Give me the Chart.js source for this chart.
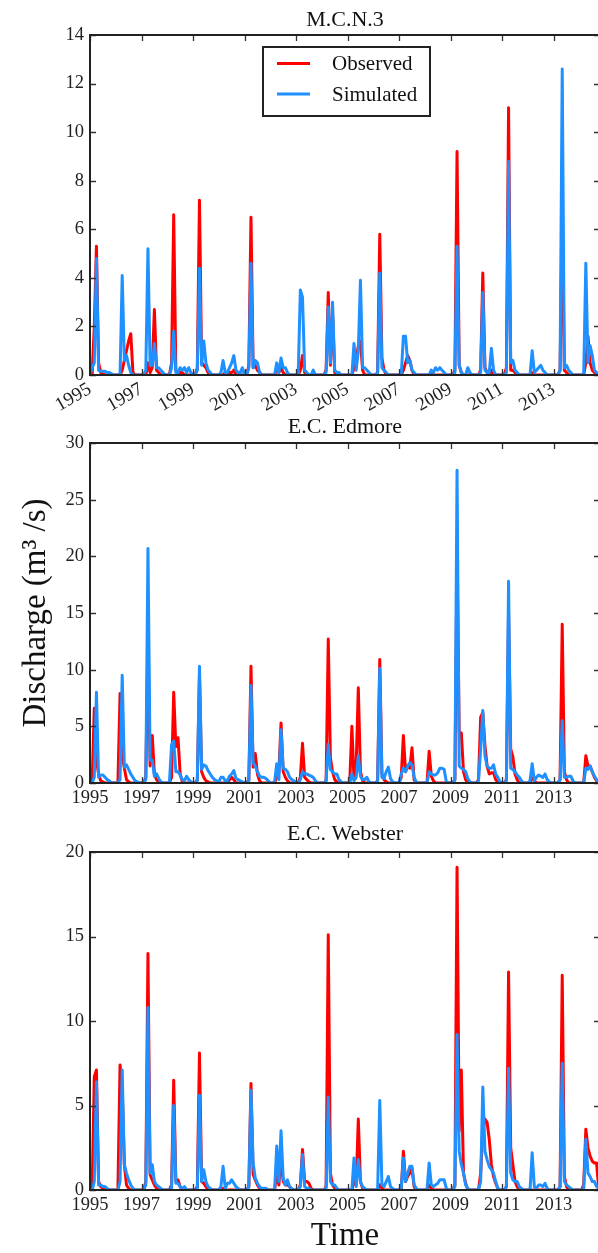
<!DOCTYPE html>
<html><head><meta charset="utf-8">
<script src="https://cdn.jsdelivr.net/npm/chart.js@4.4.1/dist/chart.umd.min.js"></script>
<style>
html,body{margin:0;padding:0;background:#fff;overflow:hidden;width:598px;height:1253px;}
.wrap{position:absolute;left:0;}
canvas{display:block;}
</style></head><body>
<div class="wrap" style="top:0px"><canvas id="c1" width="600" height="420"></canvas></div>
<div class="wrap" style="top:400px"><canvas id="c2" width="600" height="420"></canvas></div>
<div class="wrap" style="top:800px"><canvas id="c3" width="600" height="460"></canvas></div>
<script>
// ---------------- DATA (monthly discharge, m3/s, starting Jan 1995) ----------------
const startYear = 1995;
const yearTicks = [1995, 1997, 1999, 2001, 2003, 2005, 2007, 2009, 2011, 2013];
const seriesLabels = ['Observed', 'Simulated'];
const panelTitles = ['M.C.N.3', 'E.C. Edmore', 'E.C. Webster'];
const mcnTicks = [0, 2, 4, 6, 8, 10, 12, 14];
const edmTicks = [0, 5, 10, 15, 20, 25, 30];
const webTicks = [0, 5, 10, 15, 20];

const mcnObs = [
  0,0,2.0,5.3,0.5,0.1,0.05,0,0,0,0,0,
  0,0,0,0.2,0.6,1.0,1.4,1.7,0.1,0,0,0,
  0,0,0,0.5,0.1,0.3,2.7,0.2,0.1,0,0,0,
  0,0,0.5,6.6,0.2,0.1,0.1,0.1,0,0,0,0,
  0,0,0.3,7.2,0.5,0.4,0.3,0.1,0,0,0,0,
  0,0,0,0.1,0,0.1,0.1,0.2,0,0,0,0,
  0,0,0.4,6.5,0.3,0.4,0.2,0.1,0,0,0,0,
  0,0,0,0.2,0.1,0.3,0.1,0,0,0,0,0,
  0,0,0.2,0.8,0.1,0,0,0,0,0,0,0,
  0,0,0.2,3.4,0.4,2.6,0.1,0,0,0,0,0,
  0,0,0,0.3,0.6,1.2,1.4,0.2,0,0,0,0,
  0,0,0.1,5.8,0.7,0.2,0,0,0,0,0,0,
  0,0,0.2,0.5,0.8,0.6,0.2,0,0,0,0,0,
  0,0,0,0.1,0,0,0,0,0,0,0,0,
  0,0,0.2,9.2,0.4,0.1,0,0,0,0,0,0,
  0,0,0.2,4.2,0.3,0.1,0,0.2,0,0,0,0,
  0,0,0.3,11.0,0.2,0.2,0.1,0,0,0,0,0,
  0,0,0.1,0,0,0,0,0,0,0,0,0,
  0,0,0,0.2,6.6,0.2,0.1,0,0,0,0,0,
  0,0,0,0.5,1.6,0.5,0.2,0.1,0,0
];
const mcnSim = [
  0,0.3,0.5,4.8,0.2,0.15,0.15,0.15,0.1,0.1,0.05,0,
  0,0,0,4.1,0.6,0.8,0.4,0.1,0,0,0,0,
  0,0,0.2,5.2,0.4,0.4,1.3,0.3,0.3,0.2,0.1,0,
  0,0,0.3,1.8,0.1,0.1,0.3,0.2,0.3,0.1,0.3,0.1,
  0,0,0.2,4.4,0.4,1.4,0.5,0.2,0.1,0,0,0,
  0,0.1,0.6,0.1,0.1,0.3,0.5,0.8,0.2,0.1,0.1,0.3,
  0,0,0.3,4.6,0.3,0.6,0.5,0.1,0,0,0,0,
  0,0,0,0.5,0.1,0.7,0.3,0.3,0.1,0,0,0,
  0,0,3.5,3.2,0.2,0.1,0,0,0.2,0,0,0,
  0,0,0.1,2.8,0.5,3.0,0.2,0.1,0.1,0,0,0,
  0,0,0,1.3,0.2,1.0,3.9,0.3,0.3,0.2,0.1,0,
  0,0,0.1,4.2,0.3,0.2,0.1,0,0,0,0,0,
  0,0,1.6,1.6,0.5,0.6,0.2,0.1,0,0,0,0,
  0,0,0,0.2,0.1,0.3,0.2,0.3,0.2,0.1,0,0,
  0,0,0.1,5.3,0.4,0.1,0,0,0.3,0.1,0,0,
  0,0,0.1,3.4,0.2,0.1,0.1,1.1,0.2,0,0,0,
  0,0,0.1,8.8,0.5,0.6,0.2,0.1,0,0,0,0,
  0,0,1.0,0.1,0.2,0.3,0.4,0.2,0.1,0,0,0,
  0,0,0,0.2,12.6,0.3,0.4,0.2,0.1,0,0,0,
  0,0,0,4.6,0.5,1.2,0.8,0.2,0.1,0
];
const edmObs = [
  0,0,6.6,2.0,0.8,0.2,0.1,0,0,0,0,0,
  0,0,7.9,2.5,1.3,0.3,0.1,0,0,0,0,0,
  0,0,0.5,13.0,1.5,4.2,0.8,0.3,0.1,0,0,0,
  0,0,0.5,8.0,3.2,4.0,0.8,0.1,0,0,0,0,
  0,0,0.3,9.5,1.0,0.5,0.2,0.1,0,0,0,0,
  0,0,0,0,0,0.3,0.5,0.3,0,0,0,0,
  0,0,0.3,10.3,1.4,2.6,0.8,0.2,0,0,0,0,
  0,0,0,0.5,1.0,5.3,1.0,0.5,0.2,0,0,0,
  0,0,0.5,3.5,0.5,0.3,0.1,0,0,0,0,0,
  0,0,0.2,12.7,2.2,1.0,0.3,0.1,0,0,0,0,
  0,0,5.0,0.3,1.5,8.4,1.0,0.2,0,0,0,0,
  0,0,0.2,10.9,0.8,0.3,0.1,0,0,0,0,0,
  0,0.5,4.2,1.0,1.5,1.3,3.1,0.3,0,0,0,0,
  0,0,2.8,0.6,0.2,0,0,0,0,0,0,0,
  0,0,0.3,20.0,4.5,4.4,1.0,0.3,0,0,0,0,
  0,0.3,5.8,6.2,3.3,1.5,0.8,0.9,0.9,0.3,0.1,0,
  0,0,0.3,15.0,3.0,2.3,0.8,0.3,0,0,0,0,
  0,0,0.5,0.2,0,0,0,0,0,0,0,0,
  0,0,0,0.3,14.0,1.0,0.3,0,0,0,0,0,
  0,0,0,2.4,1.5,1.5,1.0,0.5,0.2,0
];
const edmSim = [
  0,0,0.5,8.0,0.5,0.7,0.7,0.5,0.3,0.2,0,0,
  0,0,0.3,9.5,1.4,1.6,1.2,0.8,0.5,0.2,0.1,0,
  0,0,0.3,20.7,2.0,2.0,0.6,0.8,0.4,0.1,0,0,
  0,0,3.4,3.7,1.0,1.0,0.7,0.3,0.2,0.6,0.3,0.1,
  0,0,0.2,10.3,1.2,1.6,1.5,1.1,0.8,0.5,0.3,0.2,
  0.1,0.5,0.5,0.2,0.2,0.6,0.8,1.1,0.4,0.3,0.2,0.1,
  0,0,0.2,8.6,1.8,1.5,1.0,0.6,0.5,0.5,0.4,0.2,
  0,0,0.1,1.7,0.3,4.7,1.3,1.2,1.0,0.5,0.3,0.2,
  0,0,0.3,1.0,0.8,0.8,0.7,0.6,0.5,0.2,0,0,
  0,0,0.2,3.4,1.2,1.0,0.8,0.8,0.3,0.1,0,0,
  0,0,0.8,0.2,0.5,2.4,0.6,0.3,0.3,0.5,0.1,0,
  0,0,0.1,10.1,0.5,0.4,1.0,1.4,0.4,0.1,0,0,
  0,0.8,1.3,1.0,1.5,1.8,1.6,0.5,0.1,0,0,0,
  0,0,1.0,0.8,0.7,0.7,0.9,1.3,1.3,1.2,0.1,0,
  0,0,0.3,27.6,1.5,1.3,1.2,1.0,0.4,0.1,0,0,
  0,0.2,3.0,6.4,2.4,1.5,1.3,1.3,1.6,0.8,0.5,0.1,
  0,0,0.2,17.8,1.3,1.2,1.0,0.7,0.5,0.2,0,0,
  0,0.2,1.7,0.2,0.5,0.7,0.6,0.5,0.8,0.3,0.1,0,
  0,0,0,0.3,5.5,0.5,0.5,0.6,0.6,0.2,0,0,
  0,0,0,1.3,1.2,1.5,1.0,0.6,0.3,0.1
];
const webObs = [
  0,0,6.7,7.1,0.5,0.2,0.1,0,0,0,0,0,
  0,0,7.4,6.0,1.5,0.3,0.1,0,0,0,0,0,
  0,0,0.5,14.0,0.9,0.6,0.3,0.1,0,0,0,0,
  0,0,0.3,6.5,0.5,0.6,0.2,0,0,0,0,0,
  0,0,0.2,8.1,0.5,0.4,0.2,0,0,0,0,0,
  0,0,0.1,0,0,0,0,0,0,0,0,0,
  0,0,0.2,6.3,0.9,0.6,0.3,0.1,0,0,0,0,
  0,0,0,1.0,0.3,2.0,0.5,0.3,0.3,0.2,0,0,
  0,0,0.3,2.4,0.5,0.5,0.4,0.1,0,0,0,0,
  0,0,0.2,15.1,1.0,0.3,0.1,0,0,0,0,0,
  0,0,0,0.5,0.3,4.2,0.5,0.1,0,0,0,0,
  0,0,0,0.3,0.1,0,0,0,0,0,0,0,
  0,0,2.3,0.5,0.8,1.0,1.3,0.2,0,0,0,0,
  0,0,0.3,0.1,0,0,0,0,0,0,0,0,
  0,0,0.3,19.1,3.5,7.1,1.0,0.4,0,0,0,0,
  0,0,1.0,3.5,4.2,4.0,3.0,1.5,0.8,0.4,0.1,0,
  0,0,0.2,12.9,2.5,1.5,0.5,0.2,0,0,0,0,
  0,0,0,0,0,0,0,0,0,0,0,0,
  0,0,0,0.2,12.7,0.8,0.2,0,0,0,0,0,
  0,0,0.3,3.6,2.5,2.0,1.7,1.6,1.6,0.1
];
const webSim = [
  0,0,0.5,6.4,0.3,0.3,0.2,0.2,0.1,0,0,0,
  0,0,0.5,7.1,1.5,1.0,0.6,0.3,0.1,0,0,0,
  0,0,0.3,10.8,1.0,1.5,0.5,0.3,0.2,0.1,0,0,
  0,0,0,5.0,0.4,0.4,0.2,0.1,0.2,0,0,0,
  0,0,0,5.6,0.5,1.2,0.5,0.2,0.1,0,0,0,
  0,0.2,1.4,0.1,0.4,0.4,0.6,0.4,0.2,0.1,0,0,
  0,0,0.2,5.9,1.6,0.7,0.4,0.2,0.1,0.1,0.1,0,
  0,0,0,2.6,0.5,3.5,0.7,0.3,0.6,0.2,0.1,0,
  0,0,0.2,2.1,0.2,0.1,0.1,0,0,0,0,0,
  0,0,0.1,5.5,0.5,0.3,0.3,0.1,0,0,0,0,
  0,0,0,1.9,0.2,1.8,0.5,0.2,0.1,0,0,0,
  0,0,0,5.3,0.3,0.2,0.5,0.8,0.2,0.1,0,0,
  0,0.1,1.9,0.5,1.0,1.4,1.4,0.3,0.1,0,0,0,
  0,0,1.6,0.3,0.2,0.3,0.4,0.6,0.6,0.6,0.1,0,
  0,0,0.2,9.2,2.3,1.5,1.0,0.3,0.1,0,0,0,
  0,0,0.5,6.1,2.3,1.8,1.4,1.2,1.0,0.5,0.1,0,
  0,0,0.2,7.2,1.0,0.6,0.5,0.5,0.2,0.1,0,0,
  0,0,2.2,0.2,0.1,0.3,0.3,0.2,0.4,0.1,0,0,
  0,0,0,0.2,7.5,0.5,0.3,0.2,0.1,0,0,0,
  0,0,0,3.0,1.0,0.8,0.5,0.5,0.2,0.1
];

// ---------------- RENDERING ----------------
const FONT = "'Liberation Serif', 'Times New Roman', serif";
Chart.defaults.font.family = FONT;
Chart.defaults.color = '#222';
const RED = '#ff0000';
const BLUE = '#1e90ff';

function toPoints(arr) {
  return arr.map((v, i) => ({ x: startYear + i / 12, y: v }));
}

const framePlugin = {
  id: 'frame',
  afterDatasetsDraw(chart) {
    const { ctx, chartArea: a, scales } = chart;
    const x = scales.x, y = scales.y;
    ctx.save();
    ctx.strokeStyle = '#333';
    ctx.lineWidth = 1.3;
    ctx.beginPath();
    x.ticks.forEach(t => {
      const px = Math.round(x.getPixelForValue(t.value)) + 0.5;
      ctx.moveTo(px, a.top); ctx.lineTo(px, a.top + 6);
      ctx.moveTo(px, a.bottom); ctx.lineTo(px, a.bottom - 6);
    });
    y.ticks.forEach(t => {
      const py = Math.round(y.getPixelForValue(t.value)) + 0.5;
      ctx.moveTo(a.left, py); ctx.lineTo(a.left + 6, py);
      ctx.moveTo(a.right, py); ctx.lineTo(a.right - 6, py);
    });
    ctx.stroke();
    ctx.strokeStyle = '#222';
    ctx.lineWidth = 2;
    ctx.strokeRect(a.left, a.top, a.width, a.height);
    ctx.restore();
  }
};

const boxLegendPlugin = {
  id: 'boxLegend',
  afterDraw(chart, args, o) {
    if (!o || !o.show) return;
    const { ctx, chartArea: a } = chart;
    const x0 = a.left + o.dx, y0 = a.top + o.dy;
    ctx.save();
    ctx.fillStyle = '#fff';
    ctx.fillRect(x0, y0, o.w, o.h);
    ctx.strokeStyle = '#222';
    ctx.lineWidth = 2;
    ctx.strokeRect(x0, y0, o.w, o.h);
    ctx.font = o.fontSize + 'px ' + FONT;
    ctx.textBaseline = 'middle';
    ctx.textAlign = 'left';
    chart.data.datasets.forEach((ds, i) => {
      const yy = y0 + o.rows[i];
      ctx.strokeStyle = ds.borderColor;
      ctx.lineWidth = 2.8;
      ctx.beginPath();
      ctx.moveTo(x0 + o.lineX0, yy);
      ctx.lineTo(x0 + o.lineX1, yy);
      ctx.stroke();
      ctx.fillStyle = '#111';
      ctx.fillText(ds.label, x0 + o.textX, yy + 1);
    });
    ctx.restore();
  }
};

function makeChart(id, title, obs, sim, yTickVals, cfg) {
  const yMax = yTickVals[yTickVals.length - 1];
  const lineStyle = { pointRadius: 0, tension: 0, fill: false, borderWidth: 3,
                      borderJoinStyle: 'round', borderCapStyle: 'butt' };
  return new Chart(document.getElementById(id), {
    type: 'line',
    data: {
      datasets: [
        Object.assign({ label: seriesLabels[0], data: toPoints(obs), borderColor: RED, order: 2 }, lineStyle),
        Object.assign({ label: seriesLabels[1], data: toPoints(sim), borderColor: BLUE, order: 1 }, lineStyle)
      ]
    },
    options: {
      responsive: false,
      animation: false,
      events: [],
      layout: { padding: { left: 0, right: 0, top: 0, bottom: 0 } },
      plugins: {
        legend: { display: false },
        tooltip: { enabled: false },
        title: {
          display: true, text: title, color: '#111', fullSize: false,
          font: { size: 22, weight: 'normal' },
          padding: cfg.titlePad
        },
        boxLegend: cfg.legend || { show: false }
      },
      scales: {
        x: {
          type: 'linear',
          min: 1995, max: 2014.8,
          grid: { display: false, drawTicks: false },
          border: { display: false },
          afterBuildTicks: s => { s.ticks = yearTicks.map(v => ({ value: v })); },
          afterFit: s => { s.height = cfg.xHeight; },
          ticks: {
            autoSkip: false,
            minRotation: cfg.rot, maxRotation: cfg.rot,
            padding: cfg.xPad,
            color: '#222',
            font: { size: cfg.xFont || 18.5 },
            callback: v => String(v)
          },
          title: cfg.xTitle || { display: false }
        },
        y: {
          min: 0, max: yMax,
          grid: { display: false, drawTicks: false },
          border: { display: false },
          afterBuildTicks: s => { s.ticks = yTickVals.map(v => ({ value: v })); },
          afterFit: s => { s.width = 90; },
          ticks: {
            padding: 6,
            color: '#222',
            font: { size: 18.5 },
            callback: v => String(v)
          },
          title: cfg.yTitle || { display: false }
        }
      }
    },
    plugins: [framePlugin, boxLegendPlugin]
  });
}

makeChart('c1', panelTitles[0], mcnObs, mcnSim, mcnTicks, {
  titlePad: { top: 7.4, bottom: 1.2 },
  xHeight: 45, rot: 30, xPad: 3, xFont: 19,
  legend: { show: true, dx: 173, dy: 12, w: 167, h: 69, rows: [16.5, 47],
            lineX0: 14, lineX1: 47, textX: 69, fontSize: 21 }
});
makeChart('c2', panelTitles[1], edmObs, edmSim, edmTicks, {
  titlePad: { top: 14.4, bottom: 2.2 },
  xHeight: 37, rot: 0, xPad: 4,
  yTitle: { display: true, text: 'Discharge (m\u00B3 /s)', color: '#111',
            font: { size: 33, weight: 'normal' }, padding: { top: 17, bottom: 0 } }
});
makeChart('c3', panelTitles[2], webObs, webSim, webTicks, {
  titlePad: { top: 21.4, bottom: 4.2 },
  xHeight: 70, rot: 0, xPad: 4,
  xTitle: { display: true, text: 'Time', color: '#111',
            font: { size: 33, weight: 'normal' }, padding: { top: 0, bottom: 4.2 } }
});
</script>
</body></html>
